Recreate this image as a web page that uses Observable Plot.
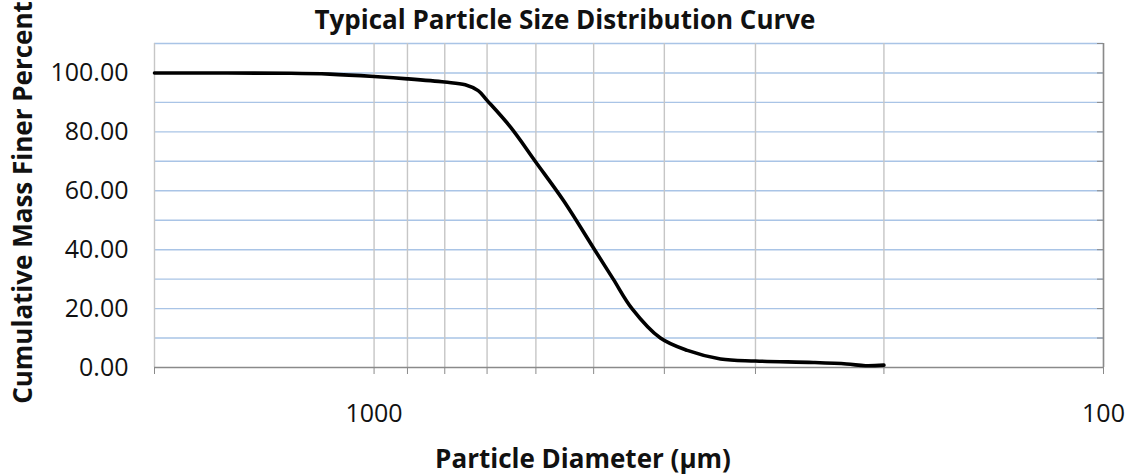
<!DOCTYPE html>
<html>
<head>
<meta charset="utf-8">
<script src="https://cdn.jsdelivr.net/npm/d3@7"></script>
<script src="https://cdn.jsdelivr.net/npm/@observablehq/plot@0.6"></script>
<style>
  html, body { margin: 0; padding: 0; background: #fff; }
</style>
</head>
<body>
<div id="chart"></div>
<script>
const titleText = "Typical Particle Size Distribution Curve";
const xLabelText = "Particle Diameter (\u03bcm)";
const yLabelText = "Cumulative Mass Finer Percent";

const diameters = [2000, 1300, 1150, 1000, 900, 800, 750, 720, 700, 650, 600, 550, 500, 470, 443, 405, 372, 335, 300, 250, 225, 212, 200];
const finer     = [100, 99.9, 99.6, 98.8, 98.0, 96.9, 96.0, 94.0, 90.7, 81.6, 69.7, 56.7, 40.5, 30.0, 20.0, 10.0, 5.8, 2.9, 2.2, 1.7, 1.2, 0.6, 0.8];

const xTickValues = [2000, 1000, 900, 800, 700, 600, 500, 400, 300, 200, 100];
const xTickLabels = [1000, 100];
const yTickLabels = [0, 20, 40, 60, 80, 100];
const yGridValues = [10, 20, 30, 40, 50, 60, 70, 80, 90, 100, 110];
const yAxisTicks  = [0, 10, 20, 30, 40, 50, 60, 70, 80, 90, 100, 110];

const data = diameters.map((d, i) => ({d, p: finer[i]}));
const labelSet = new Set(xTickLabels);

const chart = Plot.plot({
  width: 1128,
  height: 476,
  marginLeft: 154,
  marginRight: 25,
  marginTop: 43,
  marginBottom: 109,
  style: {fontFamily: "'Open Sans', sans-serif", fontSize: "25px", color: "#000", background: "#fff"},
  x: {type: "log", domain: [2000, 100]},
  y: {domain: [0, 110]},
  marks: [
    Plot.gridY(yGridValues, {stroke: "#a9c4e6", strokeOpacity: 1, strokeWidth: 1.4}),
    Plot.gridX(xTickValues, {stroke: "#c6c6c6", strokeOpacity: 1, strokeWidth: 1.4}),
    Plot.ruleY([0], {stroke: "#8a8a8a", strokeWidth: 1.5}),
    Plot.ruleX([100], {stroke: "#8a8a8a", strokeWidth: 1.5}),
    Plot.axisX(xTickValues, {
      tickSize: 7, tickPadding: 30, stroke: "#8a8a8a", fill: "#111", fontSize: 25,
      tickFormat: d => labelSet.has(d) ? String(d) : "", label: null
    }),
    Plot.axisY(yTickLabels, {
      tickSize: 0, tickPadding: 26, fill: "#111", fontSize: 25,
      tickFormat: d3.format(".2f"), label: null
    }),
    Plot.axisY(yAxisTicks, {
      anchor: "right", tickSize: 7, dx: -7, stroke: "#8a8a8a",
      tickFormat: () => "", label: null
    }),
    Plot.line(data, {x: "d", y: "p", curve: "catmull-rom", stroke: "#000", strokeWidth: 3.6}),
    Plot.text([titleText], {
      frameAnchor: "top", lineAnchor: "bottom", dx: -64, dy: -15,
      fontWeight: "bold", fontSize: 26, fill: "#111"
    }),
    Plot.text([xLabelText], {
      frameAnchor: "bottom", lineAnchor: "middle", dx: -46, dy: 92,
      fontWeight: "bold", fontSize: 26, fill: "#111"
    }),
    Plot.text([yLabelText], {
      frameAnchor: "left", textAnchor: "middle", lineAnchor: "middle", rotate: -90, dx: -131, dy: -3,
      fontWeight: "bold", fontSize: 26, fill: "#111"
    })
  ]
});
document.getElementById("chart").appendChild(chart);
</script>
</body>
</html>
